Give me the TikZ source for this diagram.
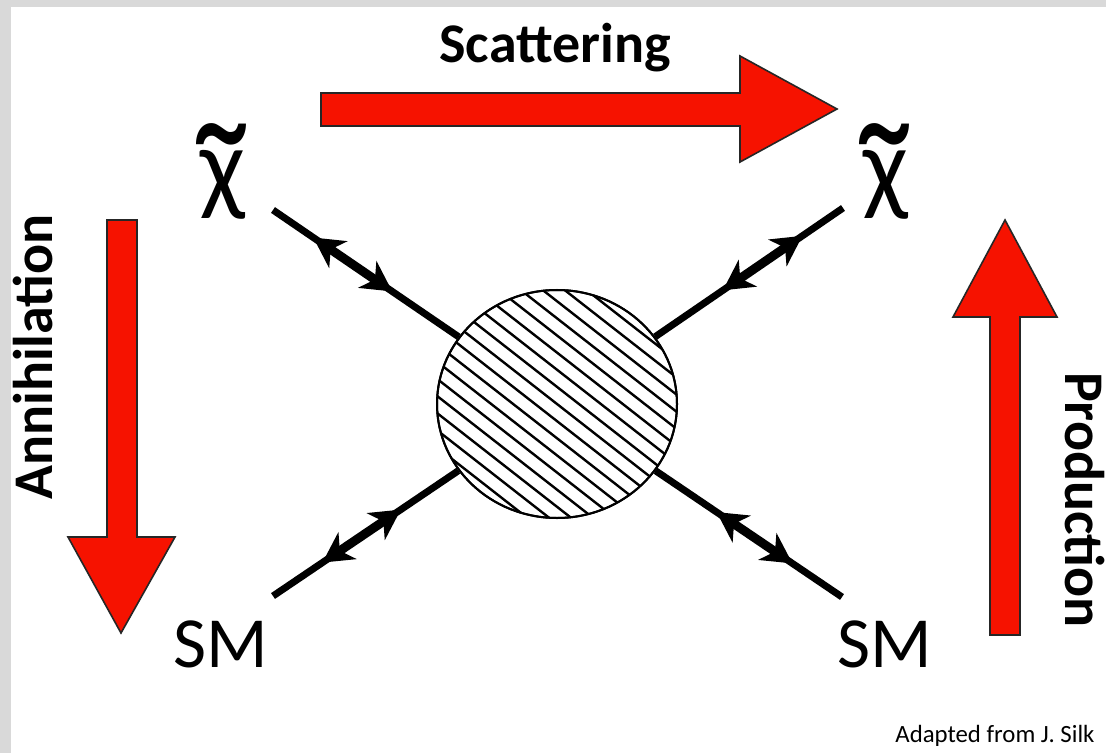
\documentclass[tikz,border=0pt]{standalone}
\usepackage{fontspec}
\usepackage{graphicx}
\setmainfont{Carlito}
\usetikzlibrary{arrows.meta,calc,shapes.geometric}
\definecolor{arrowred}{RGB}{246,18,0}
\definecolor{framegray}{RGB}{217,217,217}
% chi with a large tilde set over it
\newcommand{\tchi}{\ooalign{χ\cr\hidewidth\hspace*{-2pt}\raisebox{-30.5pt}{\scalebox{1.13}[1.3]{\fontsize{80}{80}\selectfont ˜}}\hidewidth\cr}}
\tikzset{
  bigarrow/.style={fill=arrowred, draw=black!85, line width=0.8pt, line join=miter},
  leg/.style={line width=3.5pt},
  fa/.tip={Stealth[length=15pt,width=16pt,inset=4.5pt]},
  legarrows/.style={line width=4.5pt, fa-fa},
  hatch/.style={line width=1.2pt},
  proc/.style={font=\bfseries\fontsize{28}{30}\selectfont, inner sep=0pt},
  particle/.style={font=\fontsize{36}{40}\selectfont, inner sep=0pt},
  chi/.style={font=\fontsize{53}{56}\selectfont, inner sep=0pt},
}
\begin{document}
\begin{tikzpicture}[x=0.5pt,y=-0.5pt]
\useasboundingbox (0,0) rectangle (1106,753);
% page frame
\fill[framegray] (0,0) rectangle (1106,753);
\fill[white] (11,7) rectangle (1106,753);

% process arrows
\filldraw[bigarrow] (321,93) -- (740,93) -- (740,56) -- (837,109) -- (740,162) -- (740,126) -- (321,126) -- cycle;
\filldraw[bigarrow] (107,220) -- (137,220) -- (137,537) -- (175,537) -- (121,633) -- (68,537) -- (107,537) -- cycle;
\filldraw[bigarrow] (990,635) -- (1020,635) -- (1020,317) -- (1057,317) -- (1005,220) -- (953,317) -- (990,317) -- cycle;

\node[proc, anchor=base] (scat) at (555,63) {Scattering};
\node[proc, anchor=base, rotate=90] (ann) at (52,357) {Annihilation};
\node[proc, anchor=base, rotate=-90] (prod) at (1065,500) {Production};

% interaction blob
\node[ellipse, draw, line width=1pt, minimum width=120pt, minimum height=114pt, inner sep=0pt] (blob) at (557,404) {};
\begin{scope}
  \clip (557,404) ellipse [x radius=120, y radius=114];
  \begin{scope}[shift={(557,404)}, rotate=-38]
    \foreach \k in {-10,...,10}
      \draw[hatch] (-160,\k*13.5) -- (160,\k*13.5);
  \end{scope}
\end{scope}
\draw[line width=1pt] (557,404) ellipse [x radius=120, y radius=114];

% external legs
\coordinate (oTL) at (273,210);
\coordinate (oTR) at (843,208);
\coordinate (oBL) at (273,596);
\coordinate (oBR) at (842,597);
\draw[leg] (oTL) -- (blob);
\draw[leg] (oTR) -- (blob);
\draw[leg] (oBL) -- (blob);
\draw[leg] (oBR) -- (blob);
\draw[legarrows] ($(oTL)!0.142!(blob.center)$) -- ($(oTL)!0.42!(blob.center)$);
\draw[legarrows] ($(oTR)!0.142!(blob.center)$) -- ($(oTR)!0.42!(blob.center)$);
\draw[legarrows] ($(oBL)!0.174!(blob.center)$) -- ($(oBL)!0.45!(blob.center)$);
\draw[legarrows] ($(oBR)!0.174!(blob.center)$) -- ($(oBR)!0.44!(blob.center)$);

% particle labels
\node[chi, anchor=base] (chiL) at (223,202) {\tchi};
\node[chi, anchor=base] (chiR) at (886,202) {\tchi};
\node[particle, anchor=base] (smL) at (221,667) {SM};
\node[particle, anchor=base] (smR) at (885,667) {SM};

\node[anchor=base west, font=\fontsize{12.4}{14}\selectfont, inner sep=0pt] (credit) at (895,742) {Adapted from J. Silk};
\end{tikzpicture}
\end{document}
